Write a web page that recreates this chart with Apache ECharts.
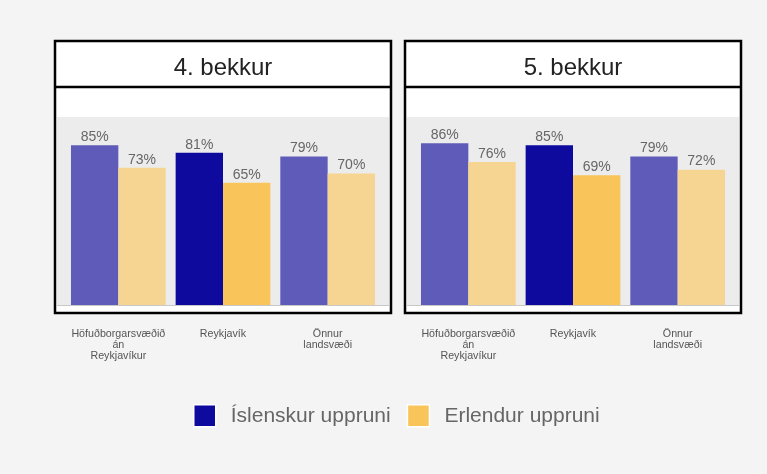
<!DOCTYPE html>
<html>
<head>
<meta charset="utf-8">
<script src="https://cdn.jsdelivr.net/npm/echarts@6/dist/echarts.min.js"></script>
<style>
  html, body { margin: 0; padding: 0; background: #f4f4f4; }
  #chart { width: 767px; height: 474px; }
</style>
</head>
<body>
<div id="chart"></div>
<script>
const categories = ['Höfuðborgarsvæðið\nán\nReykjavíkur', 'Reykjavík', 'Önnur\nlandsvæði']
const panelTitles = ['4. bekkur', '5. bekkur']
const seriesNames = ['Íslenskur uppruni', 'Erlendur uppruni']
const islenskur4 = [85, 81, 79]
const erlendur4 = [73, 65, 70]
const islenskur5 = [86, 85, 79]
const erlendur5 = [76, 69, 72]

const islColors = ['#5f5bb9', '#0e0a9e', '#5f5bb9']
const erlColors = ['#f6d592', '#f9c55b', '#f6d592']

const chart = echarts.init(document.getElementById('chart'))

const panels = [
    { x: 55, title: panelTitles[0], isl: islenskur4, erl: erlendur4 },
    { x: 405, title: panelTitles[1], isl: islenskur5, erl: erlendur5 },
]
const panelW = 336

const toData = (vals, colors) => vals.map((v, i) => ({ value: v, itemStyle: { color: colors[i] } }))

const graphic = []
panels.forEach(p => {
    graphic.push({
        type: 'rect', z: -2,
        shape: { x: p.x, y: 41, width: panelW, height: 272 },
        style: { fill: '#fff', stroke: '#000', lineWidth: 2.5 },
    })
    graphic.push({
        type: 'rect', z: -1,
        shape: { x: p.x + 2, y: 117, width: panelW - 4, height: 188 },
        style: { fill: '#ececec' },
    })
    // baseline across the whole plot band
    graphic.push({
        type: 'line', z: -1,
        shape: { x1: p.x + 2, y1: 305.5, x2: p.x + panelW - 2, y2: 305.5 },
        style: { stroke: '#c8c8c8', lineWidth: 1 },
    })
    graphic.push({
        type: 'line', z: 10,
        shape: { x1: p.x, y1: 87, x2: p.x + panelW, y2: 87 },
        style: { stroke: '#000', lineWidth: 2.5 },
    })
})

const option = {
    backgroundColor: '#f4f4f4',
    animation: false,
    textStyle: { fontFamily: 'Liberation Sans, Arial, sans-serif' },
    graphic: graphic,
    title: panels.map(p => ({
        text: p.title,
        left: p.x + panelW / 2 - 5,
        top: 51,
        textAlign: 'center',
        textStyle: { fontSize: 24, fontWeight: 'normal', color: '#222' },
    })),
    legend: {
        data: seriesNames,
        top: 399,
        left: 188,
        itemWidth: 22,
        itemHeight: 22,
        itemGap: 16,
        icon: 'rect',
        textStyle: { fontSize: 21, color: '#666', padding: [0, 0, 0, 10] },
        itemStyle: { borderColor: '#fff', borderWidth: 1.5 },
    },
    grid: panels.map(p => ({
        left: p.x + 11,
        width: panelW - 22,
        top: 117,
        bottom: 169,
    })),
    xAxis: panels.map((p, i) => ({
        type: 'category',
        gridIndex: i,
        data: categories,
        axisLine: { lineStyle: { color: '#c8c8c8', width: 1 } },
        axisTick: { show: false },
        axisLabel: {
            fontSize: 10.7,
            color: '#555',
            lineHeight: 11.3,
            margin: 23,
            interval: 0,
        },
    })),
    yAxis: panels.map((p, i) => ({
        type: 'value',
        gridIndex: i,
        min: 0,
        max: 100,
        show: false,
        splitLine: { show: false },
    })),
    series: []
}

panels.forEach((p, i) => {
    const label = {
        show: true,
        position: 'top',
        distance: 1,
        formatter: '{c}%',
        fontSize: 14,
        color: '#666',
    }
    option.series.push({
        name: seriesNames[0],
        type: 'bar',
        xAxisIndex: i,
        yAxisIndex: i,
        data: toData(p.isl, islColors),
        itemStyle: { color: islColors[1] },
        barGap: '0%',
        barCategoryGap: '9.5%',
        label: label,
    })
    option.series.push({
        name: seriesNames[1],
        type: 'bar',
        xAxisIndex: i,
        yAxisIndex: i,
        data: toData(p.erl, erlColors),
        itemStyle: { color: erlColors[1] },
        barGap: '0%',
        barCategoryGap: '9.5%',
        label: label,
    })
})

chart.setOption(option)
</script>
</body>
</html>
